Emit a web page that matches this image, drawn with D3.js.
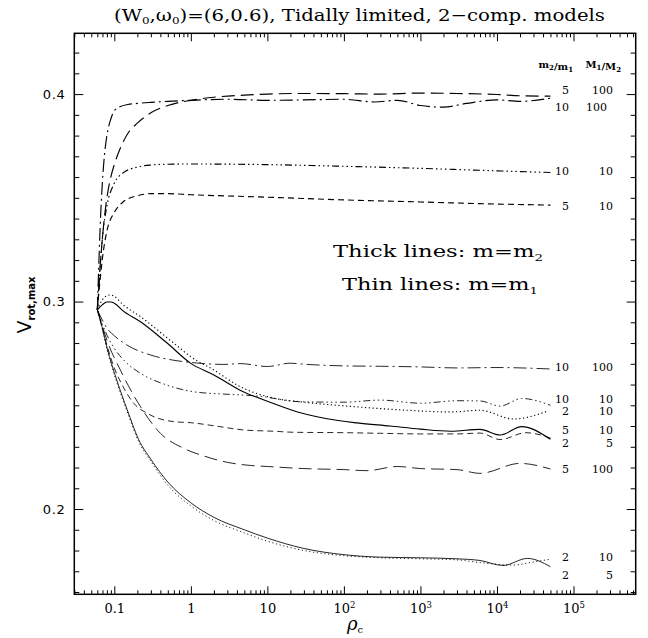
<!DOCTYPE html>
<meta charset='utf-8'>
<style>
    body { margin: 0; background: #fff; }
    svg { display: block; }
    .curve { fill: none; stroke: #000; }
</style>
<body>
<script src='https://d3js.org/d3.v7.min.js'></script>
<script>
// ---- data: rho_c vs V_rot,max ----
// thick lines (m = m2)
const rho_5_100_m2 = [0.06, 0.065, 0.07, 0.08, 0.09, 0.1, 0.12, 0.15, 0.2, 0.3, 0.5, 0.7, 1, 2, 5, 10, 30, 100, 300, 1000, 3000, 1e4, 2e4, 5e4];
const v_5_100_m2   = [0.296, 0.316, 0.331, 0.35, 0.36, 0.366, 0.374, 0.381, 0.386, 0.391, 0.3945, 0.396, 0.397, 0.3985, 0.3995, 0.4, 0.4003, 0.4002, 0.4, 0.4005, 0.4003, 0.3998, 0.3992, 0.399];
const rho_10_100_m2 = [0.06, 0.063, 0.066, 0.07, 0.075, 0.08, 0.09, 0.1, 0.12, 0.15, 0.2, 0.3, 0.5, 1, 3, 10, 30, 100, 250, 500, 1000, 2000, 4000, 1e4, 2e4, 5e4];
const v_10_100_m2   = [0.296, 0.32, 0.34, 0.358, 0.372, 0.38, 0.388, 0.392, 0.394, 0.395, 0.3955, 0.396, 0.3965, 0.397, 0.3975, 0.397, 0.3972, 0.3975, 0.3962, 0.397, 0.3945, 0.3937, 0.3955, 0.3972, 0.3965, 0.398];
const rho_10_10_m2 = [0.06, 0.065, 0.07, 0.08, 0.1, 0.13, 0.2, 0.3, 0.5, 1, 10, 100, 1000, 1e4, 5e4];
const v_10_10_m2   = [0.296, 0.316, 0.331, 0.346, 0.357, 0.362, 0.3648, 0.3658, 0.3662, 0.3663, 0.366, 0.3652, 0.3642, 0.363, 0.3622];
const rho_5_10_m2 = [0.06, 0.065, 0.07, 0.08, 0.1, 0.13, 0.2, 0.3, 0.5, 1, 10, 100, 1000, 1e4, 5e4];
const v_5_10_m2   = [0.296, 0.31, 0.321, 0.334, 0.343, 0.348, 0.351, 0.352, 0.352, 0.3515, 0.3503, 0.349, 0.348, 0.347, 0.3465];
const rho_2_10_m2 = [0.06, 0.07, 0.08, 0.09, 0.1, 0.13, 0.22, 0.6, 1, 2, 4.4, 12, 27, 120, 550, 2500, 6000, 1.65e4, 4.6e4];
const v_2_10_m2   = [0.296, 0.301, 0.3028, 0.3032, 0.3025, 0.2985, 0.2927, 0.2799, 0.2734, 0.267, 0.259, 0.2535, 0.2517, 0.2495, 0.2478, 0.2468, 0.2476, 0.2434, 0.2472];
const rho_2_5_m2 = [0.06, 0.07, 0.08, 0.09, 0.1, 0.13, 0.22, 0.49, 1, 2, 4.4, 12, 27, 60, 150, 400, 1000, 2500, 6000, 1.1e4, 2.1e4, 5e4];
const v_2_5_m2   = [0.296, 0.2985, 0.2998, 0.2998, 0.2992, 0.2955, 0.2903, 0.28, 0.2702, 0.2646, 0.2573, 0.2509, 0.2464, 0.2435, 0.2415, 0.24, 0.2385, 0.2375, 0.2384, 0.2357, 0.2397, 0.2336];
// thin lines (m = m1)
const rho_10_100_m1 = [0.06, 0.07, 0.08, 0.1, 0.147, 0.3, 0.6, 1.1, 2.7, 4.4, 10, 20, 30, 100, 300, 1000, 3000, 1e4, 5e4];
const v_10_100_m1   = [0.296, 0.291, 0.2872, 0.2835, 0.279, 0.2742, 0.2717, 0.2705, 0.2697, 0.2701, 0.2687, 0.2703, 0.2698, 0.269, 0.2688, 0.2685, 0.268, 0.2682, 0.2675];
const rho_10_10_m1 = [0.06, 0.07, 0.084, 0.1, 0.147, 0.22, 0.49, 1.1, 2.7, 7.3, 27, 100, 300, 1000, 3000, 6000, 1.1e4, 2.1e4, 5e4];
const v_10_10_m1   = [0.296, 0.289, 0.2823, 0.2775, 0.2702, 0.2654, 0.2597, 0.2565, 0.2554, 0.2545, 0.2517, 0.2515, 0.2525, 0.251, 0.2522, 0.2521, 0.2496, 0.2533, 0.25];
const rho_5_10_m1 = [0.06, 0.07, 0.08, 0.1, 0.13, 0.18, 0.27, 0.6, 1, 2.4, 4.9, 12, 22, 100, 300, 1000, 3000, 6000, 1.1e4, 2.4e4, 5e4];
const v_5_10_m1   = [0.296, 0.287, 0.279, 0.268, 0.259, 0.2509, 0.2461, 0.2421, 0.2416, 0.2397, 0.2381, 0.2375, 0.237, 0.2368, 0.2365, 0.2362, 0.2362, 0.2366, 0.2335, 0.2368, 0.2342];
const rho_5_100_m1 = [0.06, 0.07, 0.08, 0.12, 0.22, 0.4, 0.8, 1.5, 3, 6, 10, 30, 100, 200, 500, 1000, 3000, 6000, 2e4, 5e4];
const v_5_100_m1   = [0.296, 0.288, 0.2814, 0.267, 0.2493, 0.2365, 0.2293, 0.2255, 0.2225, 0.221, 0.2205, 0.2195, 0.219, 0.2185, 0.2205, 0.2195, 0.219, 0.2172, 0.222, 0.2193];
const rho_2_10_m1 = [0.06, 0.069, 0.08, 0.108, 0.147, 0.208, 0.3, 0.5, 1, 2, 5, 10, 30, 100, 300, 1000, 3000, 6000, 1.6e4, 3e4, 5e4];
const v_2_10_m1   = [0.296, 0.2875, 0.277, 0.261, 0.247, 0.2325, 0.223, 0.2115, 0.2015, 0.1945, 0.1885, 0.1845, 0.18, 0.1775, 0.1765, 0.176, 0.1755, 0.1742, 0.173, 0.1745, 0.1758];
const rho_2_5_m1 = [0.06, 0.069, 0.08, 0.108, 0.147, 0.208, 0.3, 0.5, 1, 2, 5, 10, 30, 100, 300, 1000, 3000, 6000, 1.2e4, 2.5e4, 5e4];
const v_2_5_m1   = [0.296, 0.288, 0.278, 0.262, 0.248, 0.2335, 0.224, 0.213, 0.203, 0.196, 0.19, 0.186, 0.181, 0.178, 0.1768, 0.1765, 0.176, 0.1752, 0.1728, 0.1762, 0.1722];

// right-hand labels: m2/m1, M1/M2 and the V level they sit at
const labelQ  = ['5', '10', '10', '5', '10', '10', '2', '5', '2', '5', '2', '2'];
const labelMu = ['100', '100', '10', '10', '100', '10', '10', '10', '5', '100', '10', '5'];
const labelV  = [0.4019, 0.3939, 0.3630, 0.3460, 0.2685, 0.2530, 0.2473, 0.2381, 0.2317, 0.2193, 0.1767, 0.1682];

const xMajor = [0.1, 1, 10, 100, 1000, 1e4, 1e5];
const yMajor = [0.2, 0.3, 0.4];

// ---- layout ----
const W = 648, H = 638;
const pLeft = 74.3, pRight = 635.7, pTop = 33.3, pBottom = 594.3;

const dashes = {
    longdash: '13,6',
    dashdot: '13,4,2,4',
    dashdot3: '7,3,1.5,3,1.5,3,1.5,3',
    shortdash: '6,4',
    dotted: '1.2,2.6',
    solid: null
};

const curves = [
    { rho: rho_5_100_m2, v: v_5_100_m2, style: 'longdash', thick: true },
    { rho: rho_10_100_m2, v: v_10_100_m2, style: 'dashdot', thick: true },
    { rho: rho_10_10_m2, v: v_10_10_m2, style: 'dashdot3', thick: true },
    { rho: rho_5_10_m2, v: v_5_10_m2, style: 'shortdash', thick: true },
    { rho: rho_2_10_m2, v: v_2_10_m2, style: 'dotted', thick: true },
    { rho: rho_2_5_m2, v: v_2_5_m2, style: 'solid', thick: true },
    { rho: rho_10_100_m1, v: v_10_100_m1, style: 'dashdot', thick: false },
    { rho: rho_10_10_m1, v: v_10_10_m1, style: 'dashdot3', thick: false },
    { rho: rho_5_10_m1, v: v_5_10_m1, style: 'shortdash', thick: false },
    { rho: rho_5_100_m1, v: v_5_100_m1, style: 'longdash', thick: false },
    { rho: rho_2_10_m1, v: v_2_10_m1, style: 'dotted', thick: false },
    { rho: rho_2_5_m1, v: v_2_5_m1, style: 'solid', thick: false }
];

const svg = d3.select('body').append('svg')
    .attr('width', W)
    .attr('height', H);

const x = d3.scaleLog().domain([0.03, 6.5e5]).range([pLeft, pRight]);
const y = d3.scaleLinear().domain([0.1589, 0.4293]).range([pBottom, pTop]);

// minor tick values
let xMinor = [];
for (let e = -2; e <= 5; e++) {
    for (let k = 2; k <= 9; k++) {
        let t = k * Math.pow(10, e);
        if (t >= 0.03 && t <= 6.5e5) xMinor.push(t);
    }
}
let yMinor = d3.range(16, 43).map(d => d / 100).filter(d => yMajor.indexOf(d) < 0);

const noDomain = g => g.select('.domain').remove();

// bottom & top
svg.append('g')
    .attr('transform', `translate(0,${pBottom})`)
    .call(d3.axisBottom(x).tickValues(xMinor).tickSizeInner(-4).tickFormat(''))
    .call(noDomain);
let xAx = svg.append('g')
    .attr('transform', `translate(0,${pBottom})`)
    .call(d3.axisBottom(x).tickValues(xMajor).tickSizeInner(-8).tickPadding(9).tickFormat(d => d))
    .call(noDomain);
svg.append('g')
    .attr('transform', `translate(0,${pTop})`)
    .call(d3.axisTop(x).tickValues(xMinor).tickSizeInner(-4).tickFormat(''))
    .call(noDomain);
svg.append('g')
    .attr('transform', `translate(0,${pTop})`)
    .call(d3.axisTop(x).tickValues(xMajor).tickSizeInner(-8).tickFormat(''))
    .call(noDomain);

// left & right
svg.append('g')
    .attr('transform', `translate(${pLeft},0)`)
    .call(d3.axisLeft(y).tickValues(yMinor).tickSizeInner(-5).tickFormat(''))
    .call(noDomain);
let yAx = svg.append('g')
    .attr('transform', `translate(${pLeft},0)`)
    .call(d3.axisLeft(y).tickValues(yMajor).tickSizeInner(-9).tickPadding(9).tickFormat(d3.format('.1f')))
    .call(noDomain);
svg.append('g')
    .attr('transform', `translate(${pRight},0)`)
    .call(d3.axisRight(y).tickValues(yMinor).tickSizeInner(-5).tickFormat(''))
    .call(noDomain);
svg.append('g')
    .attr('transform', `translate(${pRight},0)`)
    .call(d3.axisRight(y).tickValues(yMajor).tickSizeInner(-9).tickFormat(''))
    .call(noDomain);

svg.selectAll('.tick line').attr('stroke', '#000').attr('stroke-width', 1);

// x tick labels: 0.1, 1, 10, then 10^n
xAx.selectAll('.tick text')
    .attr('font-family', 'DejaVu Serif')
    .attr('font-size', 13)
    .attr('fill', '#000')
    .each(function(d) {
        let t = d3.select(this).text('');
        if (d < 100) {
            t.text(d);
        } else {
            t.append('tspan').text('10');
            t.append('tspan').attr('font-size', 8.5).attr('dy', -5).text(Math.round(Math.log10(d)));
        }
    });

yAx.selectAll('.tick text')
    .attr('font-family', 'DejaVu Sans')
    .attr('font-size', 13)
    .attr('letter-spacing', 0.6)
    .attr('fill', '#000');

// frame
svg.append('rect')
    .attr('x', pLeft).attr('y', pTop)
    .attr('width', pRight - pLeft).attr('height', pBottom - pTop)
    .attr('fill', 'none').attr('stroke', '#000').attr('stroke-width', 1.5);

// curves
const line = d3.line()
    .x(d => x(d[0]))
    .y(d => y(d[1]))
    .curve(d3.curveMonotoneX);

svg.selectAll('.curve')
    .data(curves)
    .enter().append('path')
        .attr('class', 'curve')
        .attr('d', c => line(c.rho.map((r, i) => [r, c.v[i]])))
        .attr('stroke-width', c => c.thick ? 1.15 : 0.85)
        .attr('stroke-dasharray', c => dashes[c.style]);

// right labels
const labels = svg.append('g')
    .attr('font-family', 'DejaVu Serif')
    .attr('font-size', 11)
    .attr('fill', '#000');

labels.selectAll('.q')
    .data(labelQ)
    .enter().append('text')
        .attr('x', 569)
        .attr('y', (d, i) => y(labelV[i]))
        .attr('dy', '0.36em')
        .attr('text-anchor', 'end')
        .text(d => d);

labels.selectAll('.mu')
    .data(labelMu)
    .enter().append('text')
        .attr('x', (d, i) => i === 1 ? 607 : 613)
        .attr('y', (d, i) => y(labelV[i]))
        .attr('dy', '0.36em')
        .attr('text-anchor', 'end')
        .text(d => d);

// header  m2/m1  M1/M2
const sub = (t, main, s) => {
    t.append('tspan').text(main);
    t.append('tspan').attr('font-size', 7).attr('dy', 2).text(s);
    t.append('tspan').attr('dy', -2).text('');
};
let h1 = labels.append('text').attr('x', 573).attr('y', 68).attr('text-anchor', 'end').attr('font-weight', 'bold').attr('font-size', 10);
sub(h1, 'm', '2'); h1.append('tspan').text('/'); sub(h1, 'm', '1');
let h2 = labels.append('text').attr('x', 621).attr('y', 68).attr('text-anchor', 'end').attr('font-weight', 'bold').attr('font-size', 10);
sub(h2, 'M', '1'); h2.append('tspan').text('/'); sub(h2, 'M', '2');

// title
let title = svg.append('text')
    .attr('x', 114).attr('y', 21)
    .attr('font-family', 'DejaVu Serif')
    .attr('font-size', 16.5)
    .attr('textLength', 491)
    .attr('lengthAdjust', 'spacingAndGlyphs');
title.append('tspan').text('(W');
title.append('tspan').attr('font-size', 10).attr('dy', 3).text('0');
title.append('tspan').attr('dy', -3).text(',ω');
title.append('tspan').attr('font-size', 10).attr('dy', 3).text('0');
title.append('tspan').attr('dy', -3).text(')=(6,0.6), Tidally limited, 2\u2212comp. models');

// in-plot note
let thick = svg.append('text')
    .attr('x', 333).attr('y', 257)
    .attr('font-family', 'DejaVu Serif').attr('font-size', 17)
    .attr('textLength', 210).attr('lengthAdjust', 'spacingAndGlyphs');
thick.append('tspan').text('Thick lines: m=m');
thick.append('tspan').attr('font-size', 10).attr('dy', 4).text('2');

let thin = svg.append('text')
    .attr('x', 342).attr('y', 290)
    .attr('font-family', 'DejaVu Serif').attr('font-size', 17)
    .attr('textLength', 196).attr('lengthAdjust', 'spacingAndGlyphs');
thin.append('tspan').text('Thin lines: m=m');
thin.append('tspan').attr('font-size', 10).attr('dy', 4).text('1');

// axis titles
let yl = svg.append('text')
    .attr('transform', `translate(31,305) rotate(-90)`)
    .attr('text-anchor', 'middle')
    .attr('font-family', 'DejaVu Sans');
yl.append('tspan').attr('font-size', 19).text('V');
yl.append('tspan').attr('font-size', 10).attr('font-weight', 'bold').attr('dy', 4).text('rot,max');

let xl = svg.append('text')
    .attr('x', 355).attr('y', 630)
    .attr('text-anchor', 'middle')
    .attr('font-family', 'DejaVu Serif');
xl.append('tspan').attr('font-size', 18).attr('font-style', 'italic').text('ρ');
xl.append('tspan').attr('font-size', 10).attr('dy', 3).text('c');
</script>
</body>
